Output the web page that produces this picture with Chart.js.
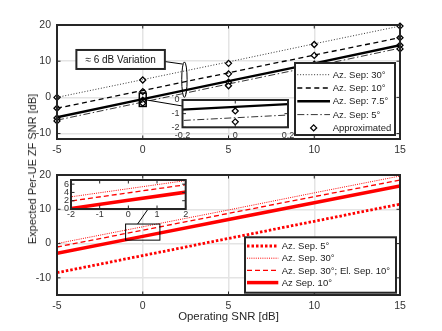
<!DOCTYPE html>
<html>
<head>
<meta charset="utf-8">
<script src="https://cdn.jsdelivr.net/npm/chart.js@4.4.1/dist/chart.umd.min.js"></script>
<style>
  body { margin: 0; background: #fff; }
  #wrap { position: relative; width: 442px; height: 331px; overflow: hidden; }
  canvas { position: absolute; }
  #ylab {
    position: absolute; left: 32px; top: 169px; white-space: nowrap;
    transform: translate(-50%, -50%) rotate(-90deg);
    font: 11px 'Liberation Sans', Arial, sans-serif; color: #262626;
  }
</style>
</head>
<body>
<div id="wrap">
  <canvas id="topChart" width="442" height="163" style="left:0;top:0"></canvas>
  <canvas id="botChart" width="442" height="168" style="left:0;top:163px"></canvas>
  <canvas id="topInset" width="140" height="50" style="left:155px;top:92px"></canvas>
  <canvas id="botInset" width="150" height="50" style="left:45px;top:172px"></canvas>
  <div id="ylab">Expected Per-UE ZF SNR [dB]</div>
</div>
<script>
// operating SNR points (x axis)
const snr = [-5, 0, 5, 10, 15];
const xTicks = [-5, 0, 5, 10, 15];
const yTicks = [-10, 0, 10, 20];

// top panel: exact curves
const topLabels = ['Az. Sep: 30°', 'Az. Sep: 10°', 'Az. Sep: 7.5°', 'Az. Sep: 5°', 'Approximated'];
const sep30 = [0.0, 4.9, 9.8, 14.8, 19.7];
const sep10 = [-3.0, 1.9, 6.8, 11.7, 16.5];
const sep75 = [-5.5, -0.5, 4.5, 9.4, 14.4];
const sep5 = [-6.3, -1.3, 3.7, 8.6, 13.6];
// top panel: approximated markers
const approx30 = [0.0, 4.8, 9.4, 14.6, 19.7];
const approx10 = [-3.0, 1.6, 6.5, 11.6, 16.5];
const approx75 = [-5.7, -0.8, 4.2, 9.2, 14.4];
const approx5 = [-6.5, -1.6, 3.2, 8.2, 13.4];

// bottom panel
const botLabels = ['Az. Sep. 5°', 'Az. Sep. 30°', 'Az. Sep. 30°; El. Sep. 10°', 'Az Sep. 10°'];
const az5 = [-8.5, -3.5, 1.5, 6.5, 11.5];
const az30 = [0.0, 4.9, 9.8, 14.8, 19.7];
const az30el10 = [-1.0, 3.9, 8.8, 13.7, 18.5];
const az10 = [-2.8, 2.1, 7.0, 11.9, 16.8];

// inset ticks
const topInsetX = [-0.2, 0, 0.2];
const topInsetY = [-2, -1, 0];
const botInsetX = [-2, -1, 0, 1, 2];
const botInsetY = [0, 2, 4, 6];

const annotText = '≈ 6 dB Variation';
const xTitle = 'Operating SNR [dB]';

const FONT = "'Liberation Sans', Arial, sans-serif";
const INK = '#262626';
const GRID = '#e4e4e4';
const RED = '#ff0000';
Chart.defaults.font.family = FONT;
Chart.defaults.color = '#333';

function line(label, vals, color, width, dash) {
  return {
    label: label,
    data: snr.map((x, i) => ({ x: x, y: vals[i] })),
    borderColor: color, borderWidth: width, borderDash: dash,
    pointRadius: 0, tension: 0, fill: false
  };
}

function topSets(clipMarkers) {
  const pts = [];
  snr.forEach((x, i) => {
    [approx30[i], approx10[i], approx75[i], approx5[i]].forEach(y => pts.push({ x: x, y: y }));
  });
  return [
    line(topLabels[0], sep30, '#000', 0.8, [1, 1.8]),
    line(topLabels[1], sep10, '#000', 1.3, [5, 3.5]),
    line(topLabels[2], sep75, '#000', 2.4, []),
    line(topLabels[3], sep5, '#000', 0.8, [7, 2.5, 1.5, 2.5]),
    {
      label: topLabels[4], data: pts, showLine: false,
      pointStyle: 'rectRot', pointRadius: 3,
      pointBackgroundColor: '#fff', pointBorderColor: '#000', pointBorderWidth: 1.3,
      clip: clipMarkers ? undefined : false
    }
  ];
}

function botSets() {
  return [
    line(botLabels[0], az5, RED, 2.8, [2.5, 2]),
    line(botLabels[1], az30, RED, 1, [1, 1.2]),
    line(botLabels[2], az30el10, RED, 1.3, [5, 3]),
    line(botLabels[3], az10, RED, 3.5, [])
  ];
}

function boxPlugin(whiteBg) {
  return {
    id: 'box',
    beforeDraw(chart) {
      if (!whiteBg) return;
      const a = chart.chartArea, ctx = chart.ctx;
      ctx.save();
      ctx.fillStyle = '#fff';
      ctx.fillRect(a.left, a.top, a.width, a.height);
      ctx.restore();
    },
    afterDatasetsDraw(chart) {
      const { ctx, chartArea: a, scales: { x, y } } = chart;
      ctx.save();
      ctx.strokeStyle = INK;
      ctx.lineWidth = 1;
      ctx.beginPath();
      x.ticks.forEach(t => {
        const p = x.getPixelForValue(t.value);
        ctx.moveTo(p, a.bottom); ctx.lineTo(p, a.bottom - 3.5);
        ctx.moveTo(p, a.top); ctx.lineTo(p, a.top + 3.5);
      });
      y.ticks.forEach(t => {
        const p = y.getPixelForValue(t.value);
        ctx.moveTo(a.left, p); ctx.lineTo(a.left + 3.5, p);
        ctx.moveTo(a.right, p); ctx.lineTo(a.right - 3.5, p);
      });
      ctx.stroke();
      ctx.lineWidth = 2;
      ctx.strokeRect(a.left, a.top, a.width, a.height);
      ctx.restore();
    }
  };
}

function drawLegend(chart, L) {
  const ctx = chart.ctx, a = chart.chartArea;
  const x0 = a.right - L.r - L.w, y0 = a.bottom - L.b - L.h;
  ctx.save();
  ctx.fillStyle = '#fff';
  ctx.fillRect(x0, y0, L.w, L.h);
  ctx.lineWidth = 2;
  ctx.strokeStyle = INK;
  ctx.strokeRect(x0, y0, L.w, L.h);
  ctx.font = '9.5px ' + FONT;
  ctx.textBaseline = 'middle';
  chart.data.datasets.forEach((ds, i) => {
    const cy = y0 + L.first + i * L.step;
    if (ds.showLine === false) {
      const cx = x0 + (L.s0 + L.s1) / 2;
      ctx.setLineDash([]);
      ctx.beginPath();
      ctx.moveTo(cx, cy - 3); ctx.lineTo(cx + 3, cy); ctx.lineTo(cx, cy + 3); ctx.lineTo(cx - 3, cy);
      ctx.closePath();
      ctx.fillStyle = '#fff'; ctx.fill();
      ctx.lineWidth = ds.pointBorderWidth; ctx.strokeStyle = '#000'; ctx.stroke();
    } else {
      ctx.setLineDash(ds.borderDash);
      ctx.lineWidth = ds.borderWidth;
      ctx.strokeStyle = ds.borderColor;
      ctx.beginPath();
      ctx.moveTo(x0 + L.s0, cy); ctx.lineTo(x0 + L.s1, cy);
      ctx.stroke();
    }
    ctx.setLineDash([]);
    ctx.fillStyle = '#222';
    ctx.fillText(ds.label, x0 + L.tx, cy + 0.5);
  });
  ctx.restore();
}

const topExtras = {
  id: 'topExtras',
  afterDraw(chart) {
    const { ctx, scales: { x, y } } = chart;
    const X = v => x.getPixelForValue(v), Y = v => y.getPixelForValue(v);
    ctx.save();
    ctx.strokeStyle = '#000';
    // zoom window around (0, 0)
    ctx.lineWidth = 1.5;
    ctx.strokeRect(X(-0.2), Y(1.2), X(0.2) - X(-0.2), Y(-2.5) - Y(1.2));
    ctx.lineWidth = 1;
    ctx.beginPath(); ctx.moveTo(X(0.2), Y(-0.7)); ctx.lineTo(X(2.34), Y(-2.4)); ctx.stroke();
    // ellipse marking the spread
    ctx.beginPath();
    ctx.ellipse(X(2.43), Y(4.9), 2.7, (Y(0) - Y(9.8)) / 2, 0, 0, 2 * Math.PI);
    ctx.stroke();
    ctx.beginPath(); ctx.moveTo(X(1.29), Y(9.9)); ctx.lineTo(X(2.33), Y(9.2)); ctx.stroke();
    // text box
    const bx = X(-3.87), by = Y(13.1), bw = X(1.29) - bx, bh = Y(7.85) - by;
    ctx.fillStyle = '#fff';
    ctx.fillRect(bx, by, bw, bh);
    ctx.lineWidth = 2; ctx.strokeStyle = INK;
    ctx.strokeRect(bx, by, bw, bh);
    ctx.fillStyle = '#111';
    ctx.font = '10px ' + FONT;
    ctx.textAlign = 'center'; ctx.textBaseline = 'middle';
    ctx.fillText(annotText, bx + bw / 2, by + bh / 2 + 0.5);
    ctx.restore();
    drawLegend(chart, { w: 100, h: 72, r: 5, b: 4, first: 11.7, step: 13.3, s0: 2.3, s1: 35, tx: 37.7 });
  }
};

const botExtras = {
  id: 'botExtras',
  afterDraw(chart) {
    const { ctx, scales: { x, y } } = chart;
    const X = v => x.getPixelForValue(v), Y = v => y.getPixelForValue(v);
    ctx.save();
    ctx.strokeStyle = '#000';
    ctx.lineWidth = 1;
    ctx.strokeRect(X(-1), Y(5.7), X(1) - X(-1), Y(1) - Y(5.7));
    ctx.beginPath(); ctx.moveTo(X(-0.3), Y(5.7)); ctx.lineTo(X(0.3), Y(10)); ctx.stroke();
    ctx.restore();
    drawLegend(chart, { w: 151, h: 55.4, r: 4, b: 2.3, first: 8.7, step: 12.2, s0: 2, s1: 33.3, tx: 36.7 });
  }
};

function makeChart(id, sets, c, plugins) {
  return new Chart(document.getElementById(id), {
    type: 'line',
    data: { datasets: sets },
    options: {
      responsive: false,
      animation: false,
      events: [],
      layout: { padding: c.pad },
      plugins: { legend: { display: false }, tooltip: { enabled: false } },
      scales: {
        x: {
          type: 'linear', min: c.xMin, max: c.xMax,
          afterBuildTicks: s => { s.ticks = c.xTicks.map(v => ({ value: v })); },
          afterFit: s => { s.height = c.xH; s.paddingLeft = 0; s.paddingRight = 0; },
          grid: { display: c.grid, color: GRID, lineWidth: 1.5, drawTicks: false },
          border: { display: false },
          ticks: { font: { size: c.fs }, padding: c.xPad, maxRotation: 0, autoSkip: false, callback: v => String(v) },
          title: c.title ? { display: true, text: c.title, color: INK, font: { size: 11.4 }, padding: { top: 0, bottom: 7 } } : { display: false }
        },
        y: {
          type: 'linear', min: c.yMin, max: c.yMax,
          afterBuildTicks: s => { s.ticks = c.yTicks.map(v => ({ value: v })); },
          afterFit: s => { s.width = c.yW; s.paddingTop = 0; s.paddingBottom = 0; },
          grid: { display: c.grid, color: GRID, lineWidth: 1.5, drawTicks: false },
          border: { display: false },
          ticks: { font: { size: c.fs }, padding: c.yPad, autoSkip: false, callback: v => String(v) }
        }
      }
    },
    plugins: plugins
  });
}

makeChart('topChart', topSets(false), {
  pad: { left: 0, right: 42, top: 25, bottom: 0 },
  xMin: -5, xMax: 15, yMin: -11.5, yMax: 20, xTicks: xTicks, yTicks: yTicks,
  xH: 24, yW: 57, grid: true, fs: 10.5, xPad: 5, yPad: 6
}, [boxPlugin(false), topExtras]);

makeChart('botChart', botSets(), {
  pad: { left: 0, right: 42, top: 12, bottom: 0 },
  xMin: -5, xMax: 15, yMin: -15, yMax: 20, xTicks: xTicks, yTicks: yTicks,
  xH: 36, yW: 57, grid: true, fs: 10.5, xPad: 4.5, yPad: 6, title: xTitle
}, [boxPlugin(false), botExtras]);

makeChart('topInset', topSets(true), {
  pad: { left: 0, right: 7, top: 8, bottom: 0 },
  xMin: -0.2, xMax: 0.2, yMin: -2, yMax: 0, xTicks: topInsetX, yTicks: topInsetY,
  xH: 14.7, yW: 27.5, grid: false, fs: 9, xPad: 3, yPad: 3
}, [boxPlugin(true)]);

makeChart('botInset', botSets(), {
  pad: { left: 0, right: 9.3, top: 8, bottom: 0 },
  xMin: -2, xMax: 2, yMin: 0, yMax: 7, xTicks: botInsetX, yTicks: botInsetY,
  xH: 13, yW: 26, grid: false, fs: 9, xPad: 0, yPad: 2
}, [boxPlugin(true)]);
</script>
</body>
</html>
